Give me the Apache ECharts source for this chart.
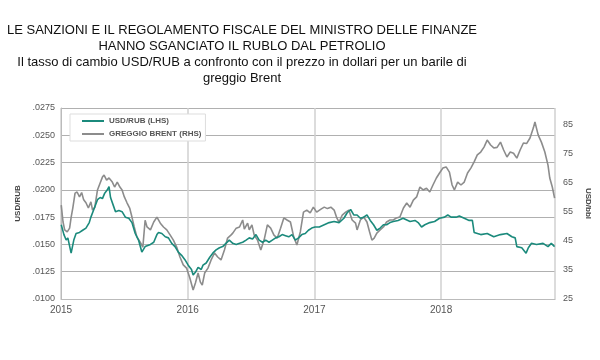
<!DOCTYPE html>
<html>
<head>
<meta charset="utf-8">
<script src="https://cdn.jsdelivr.net/npm/echarts@6/dist/echarts.min.js"></script>
<style>html,body{margin:0;padding:0;background:#fff}#c{width:600px;height:360px}</style>
</head>
<body>
<div id="c"></div>
<script>
// Decimal-year positions and values
var rubYears = [2015.002,2015.023,2015.041,2015.054,2015.080,2015.101,2015.119,2015.146,2015.171,2015.197,2015.223,2015.236,2015.262,2015.288,2015.309,2015.327,2015.345,2015.366,2015.379,2015.391,2015.412,2015.430,2015.457,2015.482,2015.508,2015.535,2015.560,2015.586,2015.612,2015.638,2015.664,2015.679,2015.706,2015.732,2015.757,2015.770,2015.796,2015.823,2015.848,2015.874,2015.900,2015.926,2015.952,2015.978,2016.004,2016.030,2016.043,2016.064,2016.082,2016.107,2016.121,2016.146,2016.173,2016.198,2016.224,2016.251,2016.276,2016.302,2016.328,2016.356,2016.383,2016.409,2016.434,2016.461,2016.486,2016.512,2016.539,2016.564,2016.590,2016.616,2016.642,2016.668,2016.694,2016.720,2016.746,2016.772,2016.798,2016.823,2016.850,2016.875,2016.901,2016.928,2016.953,2016.979,2017.005,2017.039,2017.078,2017.117,2017.156,2017.195,2017.233,2017.259,2017.286,2017.311,2017.337,2017.363,2017.389,2017.415,2017.441,2017.467,2017.493,2017.519,2017.545,2017.570,2017.597,2017.623,2017.661,2017.700,2017.755,2017.794,2017.819,2017.846,2017.872,2017.911,2017.949,2017.988,2018.027,2018.053,2018.079,2018.118,2018.144,2018.183,2018.222,2018.247,2018.261,2018.313,2018.364,2018.416,2018.469,2018.520,2018.559,2018.585,2018.598,2018.637,2018.671,2018.689,2018.714,2018.753,2018.805,2018.844,2018.870,2018.896];
var rubValues = [.0168,.0159,.0154,.0156,.0142,.0154,.0160,.0161,.0163,.0165,.0170,.0175,.0183,.0191,.0193,.0192,.0197,.0200,.0203,.0193,.0186,.0180,.0181,.0180,.0175,.0174,.0170,.0160,.0154,.0143,.0148,.0147,.0150,.0152,.0159,.0161,.0160,.0157,.0156,.0151,.0148,.0143,.0140,.0136,.0131,.0127,.0122,.0125,.0129,.0127,.0131,.0133,.0138,.0142,.0145,.0147,.0148,.0151,.0154,.0151,.0150,.0151,.0152,.0154,.0156,.0155,.0159,.0154,.0152,.0154,.0152,.0154,.0156,.0157,.0159,.0158,.0157,.0159,.0154,.0156,.0159,.0160,.0163,.0165,.0166,.0166,.0168,.0170,.0171,.0170,.0174,.0179,.0182,.0177,.0177,.0174,.0175,.0177,.0172,.0168,.0163,.0165,.0168,.0168,.0170,.0171,.0172,.0174,.0171,.0172,.0170,.0166,.0168,.0170,.0171,.0174,.0175,.0177,.0175,.0175,.0176,.0174,.0172,.0172,.0161,.0159,.0160,.0157,.0159,.0160,.0157,.0156,.0148,.0147,.0142,.0147,.0151,.0150,.0151,.0148,.0151,.0148];

var brentYears = [2015.002,2015.016,2015.029,2015.049,2015.068,2015.080,2015.093,2015.111,2015.127,2015.146,2015.163,2015.179,2015.197,2015.216,2015.236,2015.249,2015.267,2015.288,2015.309,2015.327,2015.340,2015.360,2015.379,2015.405,2015.423,2015.444,2015.465,2015.482,2015.500,2015.521,2015.542,2015.560,2015.578,2015.599,2015.625,2015.646,2015.664,2015.679,2015.706,2015.732,2015.757,2015.784,2015.809,2015.835,2015.861,2015.887,2015.913,2015.939,2015.965,2015.991,2016.017,2016.043,2016.061,2016.082,2016.100,2016.115,2016.134,2016.160,2016.185,2016.212,2016.237,2016.263,2016.290,2016.315,2016.341,2016.356,2016.383,2016.409,2016.434,2016.447,2016.473,2016.486,2016.507,2016.525,2016.551,2016.577,2016.603,2016.629,2016.655,2016.681,2016.707,2016.733,2016.759,2016.784,2016.811,2016.837,2016.862,2016.889,2016.914,2016.940,2016.967,2016.992,2017.018,2017.052,2017.078,2017.103,2017.130,2017.156,2017.177,2017.195,2017.220,2017.247,2017.272,2017.298,2017.325,2017.337,2017.363,2017.389,2017.415,2017.436,2017.454,2017.472,2017.493,2017.519,2017.545,2017.570,2017.597,2017.623,2017.648,2017.675,2017.703,2017.729,2017.755,2017.781,2017.807,2017.833,2017.858,2017.885,2017.911,2017.936,2017.963,2017.988,2018.014,2018.040,2018.066,2018.087,2018.105,2018.131,2018.157,2018.183,2018.209,2018.235,2018.261,2018.286,2018.313,2018.339,2018.364,2018.391,2018.416,2018.442,2018.469,2018.494,2018.520,2018.546,2018.572,2018.598,2018.624,2018.650,2018.675,2018.702,2018.728,2018.741,2018.753,2018.767,2018.792,2018.819,2018.844,2018.858,2018.878,2018.896];
var brentValues = [57.2,51.4,48.7,48.0,49.3,53.0,56.2,61.3,61.7,60.0,61.5,59.0,58.0,56.2,58.3,55.5,56.5,62.4,64.8,66.8,67.5,65.8,66.5,65.1,63.4,65.1,63.4,62.4,60.0,58.0,56.2,53.1,49.7,46.3,44.5,42.8,52.0,49.7,48.7,51.4,53.1,51.0,49.7,48.7,47.0,45.2,42.8,39.4,36.7,35.6,32.2,28.1,30.5,33.9,30.8,29.8,33.9,35.6,38.4,40.8,39.4,38.4,41.8,45.9,46.9,47.6,49.3,49.7,52.1,49.0,51.0,48.7,50.4,46.9,45.2,41.8,45.2,50.4,49.3,46.9,45.9,49.3,52.8,52.1,51.4,46.3,43.5,48.0,54.8,55.5,54.5,56.5,54.8,55.8,56.5,56.0,56.5,55.5,52.8,51.4,53.8,54.8,55.5,52.1,51.0,48.7,52.1,53.1,51.4,48.0,45.2,45.9,47.6,48.7,49.7,51.4,52.1,52.1,52.8,53.1,56.2,57.9,56.5,58.9,60.0,63.4,62.4,63.0,61.7,64.1,66.5,68.2,69.9,70.3,68.5,64.1,62.4,65.1,64.1,65.1,68.2,69.9,72.0,74.4,75.4,77.1,79.5,77.8,76.8,77.0,78.8,76.1,73.7,75.4,75.0,73.3,76.1,78.5,78.3,80.2,83.6,85.7,83.6,81.2,78.8,75.4,70.9,66.5,63.4,59.6];

var yearTicks = [2015, 2016, 2017, 2018];

function zip(a, b) { return a.map(function (x, i) { return [x, b[i]]; }); }

var chart = echarts.init(document.getElementById('c'), null, {renderer: 'canvas'});
var font = 'Liberation Sans, Arial, sans-serif';
var gridColor = '#b0b0b0';
chart.setOption({
  animation: false,
  backgroundColor: '#fff',
  title: {
    left: 242, top: 22, textAlign: 'center', itemGap: 0, padding: 0,
    text: 'LE SANZIONI E IL REGOLAMENTO FISCALE DEL MINISTRO DELLE FINANZE\nHANNO SGANCIATO IL RUBLO DAL PETROLIO',
    textStyle: {fontFamily: font, fontSize: 13, fontWeight: 'normal', color: '#111', lineHeight: 16},
    subtext: 'Il tasso di cambio USD/RUB a confronto con il prezzo in dollari per un barile di\ngreggio Brent',
    subtextStyle: {fontFamily: font, fontSize: 13, color: '#111', lineHeight: 16}
  },
  legend: {
    orient: 'vertical', left: 70, top: 114,
    backgroundColor: '#fff', borderColor: '#ddd', borderWidth: 1,
    padding: [3, 4, 3, 12], itemGap: 5,
    icon: 'rect', itemWidth: 22, itemHeight: 2,
    textStyle: {fontFamily: font, fontSize: 8, fontWeight: 'bold', color: '#555'},
    data: ['USD/RUB (LHS)', 'GREGGIO BRENT (RHS)']
  },
  grid: {left: 61, right: 39, top: 108, bottom: 61},
  xAxis: {
    type: 'value', min: 2015, max: 2018.9, interval: 1,
    axisLine: {show: true, lineStyle: {color: '#bbb'}},
    axisTick: {show: false},
    axisLabel: {fontFamily: font, fontSize: 10, color: '#555', margin: 6,
      formatter: function (v) { return yearTicks.indexOf(Math.round(v * 1000) / 1000) >= 0 ? String(Math.round(v)) : ''; }},
    splitLine: {show: true, lineStyle: {color: '#d0d0d0', width: 1.5}}
  },
  yAxis: [{
    type: 'value', min: 0.01, max: 0.0275, interval: 0.0025,
    name: 'USD/RUB', nameLocation: 'middle', nameGap: 31,
    nameTextStyle: {fontFamily: font, fontSize: 8, fontWeight: 'bold', color: '#444'},
    axisLine: {show: true, lineStyle: {color: '#bbb'}},
    axisTick: {show: false},
    axisLabel: {fontFamily: font, fontSize: 9, color: '#555', margin: 6,
      formatter: function (v) { return v.toFixed(4).replace(/^0/, ''); }},
    splitLine: {show: true, lineStyle: {color: gridColor, width: 1}}
  }, {
    type: 'value', min: 25, max: 90.5, interval: 10,
    name: 'USD/bbl', nameLocation: 'middle', nameGap: 24, nameRotate: -90,
    nameTextStyle: {fontFamily: font, fontSize: 8, fontWeight: 'bold', color: '#444'},
    axisLine: {show: false}, axisTick: {show: false},
    axisLabel: {fontFamily: font, fontSize: 9, color: '#555', margin: 8,
      formatter: function (v) { return (Math.round(v) === v && v % 10 === 5) ? String(v) : ''; }},
    splitLine: {show: false}
  }],
  series: [{
    name: 'GREGGIO BRENT (RHS)', type: 'line', yAxisIndex: 1, showSymbol: false, z: 3,
    color: '#8c8c8c', lineStyle: {width: 1.6, color: '#8c8c8c'},
    data: zip(brentYears, brentValues)
  }, {
    name: 'USD/RUB (LHS)', type: 'line', yAxisIndex: 0, showSymbol: false, z: 4,
    color: '#1b8a7c', lineStyle: {width: 1.6, color: '#1b8a7c'},
    data: zip(rubYears, rubValues)
  }]
});
</script>
</body>
</html>
